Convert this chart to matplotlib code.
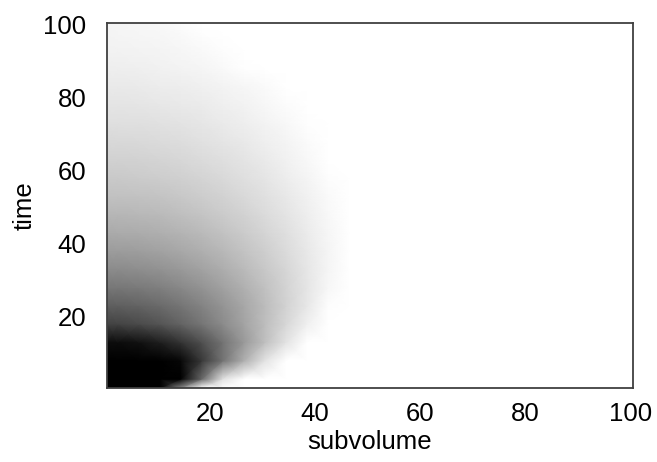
import numpy as np
import matplotlib.pyplot as plt

# sample positions (subvolume index, time step) at which the shade was read
subvolume = [0.5, 2.5, 6.5, 10.5, 14.5, 18.5, 22.5, 26.5, 30.5, 34.5, 38.5, 42.5, 46.5, 50.5]
time = [0.5, 3, 8, 13, 18, 23, 28, 33, 38, 43, 48, 53, 58, 63, 68, 73, 78, 83, 88, 93, 98, 100.5]

# darkness 0 (white) .. 1 (black), one row per time value
shade = [
    [1, 1, 1, 1, 0.45, 0, 0, 0, 0, 0, 0, 0, 0, 0],
    [1, 1, 1, 1, 1, 0.59, 0.12, 0, 0, 0, 0, 0, 0, 0],
    [1, 1, 1, 1, 0.97, 0.78, 0.55, 0.32, 0.11, 0, 0, 0, 0, 0],
    [0.95, 0.95, 0.93, 0.88, 0.8, 0.69, 0.55, 0.4, 0.25, 0.11, 0, 0, 0, 0],
    [0.74, 0.735, 0.71, 0.67, 0.61, 0.54, 0.455, 0.36, 0.26, 0.16, 0.06, 0, 0, 0],
    [0.63, 0.627, 0.612, 0.583, 0.54, 0.485, 0.42, 0.345, 0.262, 0.177, 0.094, 0.01, 0, 0],
    [0.535, 0.533, 0.522, 0.5, 0.466, 0.423, 0.37, 0.31, 0.243, 0.174, 0.104, 0.033, 0, 0],
    [0.455, 0.454, 0.445, 0.427, 0.4, 0.364, 0.321, 0.272, 0.218, 0.161, 0.101, 0.041, 0, 0],
    [0.39, 0.39, 0.382, 0.366, 0.343, 0.314, 0.278, 0.237, 0.192, 0.144, 0.093, 0.04, 0, 0],
    [0.333, 0.332, 0.326, 0.313, 0.295, 0.27, 0.24, 0.205, 0.167, 0.125, 0.081, 0.036, 0, 0],
    [0.287, 0.286, 0.28, 0.27, 0.253, 0.232, 0.206, 0.176, 0.143, 0.107, 0.069, 0.028, 0, 0],
    [0.246, 0.246, 0.241, 0.232, 0.217, 0.199, 0.177, 0.151, 0.122, 0.09, 0.055, 0.02, 0, 0],
    [0.211, 0.211, 0.206, 0.198, 0.186, 0.17, 0.15, 0.127, 0.102, 0.073, 0.043, 0.011, 0, 0],
    [0.18, 0.18, 0.176, 0.169, 0.158, 0.144, 0.126, 0.106, 0.083, 0.058, 0.03, 0, 0, 0],
    [0.153, 0.153, 0.149, 0.142, 0.133, 0.12, 0.105, 0.086, 0.066, 0.043, 0.018, 0, 0, 0],
    [0.128, 0.128, 0.125, 0.119, 0.11, 0.098, 0.084, 0.068, 0.049, 0.028, 0.006, 0, 0, 0],
    [0.106, 0.106, 0.103, 0.097, 0.089, 0.079, 0.066, 0.051, 0.034, 0.015, 0, 0, 0, 0],
    [0.086, 0.086, 0.083, 0.078, 0.071, 0.061, 0.05, 0.036, 0.02, 0.003, 0, 0, 0, 0],
    [0.068, 0.067, 0.064, 0.058, 0.05, 0.04, 0.025, 0.005, 0, 0, 0, 0, 0, 0],
    [0.053, 0.052, 0.049, 0.044, 0.036, 0.026, 0.008, 0, 0, 0, 0, 0, 0, 0],
    [0.043, 0.042, 0.039, 0.033, 0.022, 0.006, 0, 0, 0, 0, 0, 0, 0, 0],
    [0.04, 0.04, 0.036, 0.028, 0.012, 0, 0, 0, 0, 0, 0, 0, 0, 0],
]

ticks = [20, 40, 60, 80, 100]

plt.rcParams['font.family'] = ['Liberation Sans', 'DejaVu Sans']
fig = plt.figure(figsize=(6.57, 4.62), dpi=100)
ax = fig.add_axes([0.163, 0.160, 0.800, 0.790])

X, Y = np.meshgrid(subvolume, time)
ax.pcolormesh(X, Y, np.array(shade), shading='gouraud', cmap='gray_r', vmin=0, vmax=1)

ax.set_xlim(0.5, 100.5)
ax.set_ylim(0.5, 100.5)
ax.set_xticks(ticks)
ax.set_yticks(ticks)
ax.tick_params(length=0, labelsize=18.5, pad=10)
ax.tick_params(axis='y', pad=15)
ax.set_xlabel('subvolume', fontsize=18.5, labelpad=3)
ax.set_ylabel('time', fontsize=18.5, labelpad=5)
for s in ax.spines.values():
    s.set_color('#404040')
    s.set_linewidth(1.3)

fig.savefig('out.png', dpi=100)
